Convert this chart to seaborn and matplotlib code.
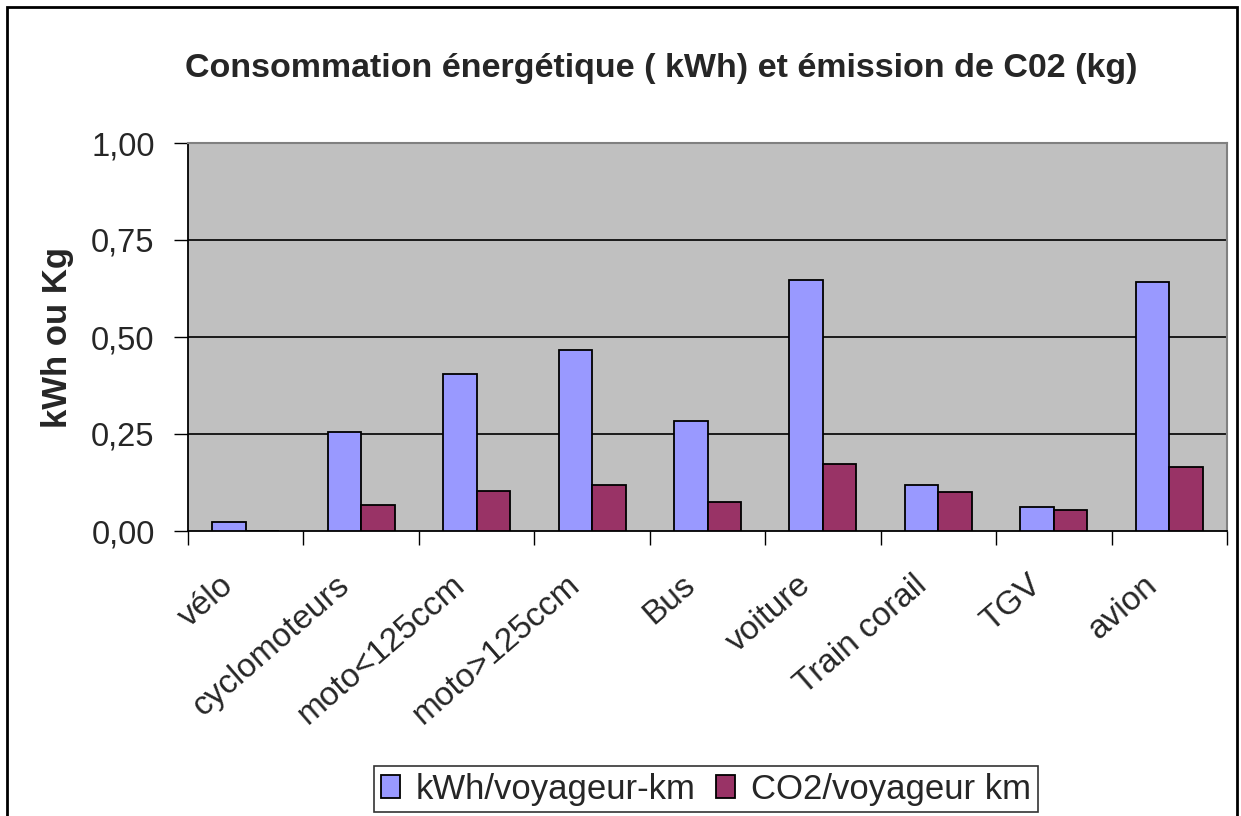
import matplotlib
matplotlib.use("Agg")
import matplotlib.pyplot as plt
import matplotlib.ticker as mticker
import matplotlib.transforms as mtransforms
from matplotlib.patches import Rectangle, Patch
import seaborn as sns
import pandas as pd

categories = ["vélo", "cyclomoteurs", "moto<125ccm", "moto>125ccm", "Bus",
              "voiture", "Train corail", "TGV", "avion"]
kwh_values = [0.022, 0.254, 0.404, 0.466, 0.284, 0.648, 0.119, 0.062, 0.641]
co2_values = [0.0, 0.066, 0.103, 0.119, 0.074, 0.172, 0.101, 0.055, 0.164]
series_names = ["kWh/voyageur-km", "CO2/voyageur km"]
y_ticks = [0.0, 0.25, 0.5, 0.75, 1.0]

title = "Consommation énergétique ( kWh) et émission de C02 (kg)"
ylabel = "kWh ou Kg"

colors = ["#9999FF", "#993366"]

df = pd.DataFrame({
    "cat": categories * 2,
    "val": kwh_values + co2_values,
    "serie": [series_names[0]] * len(categories) + [series_names[1]] * len(categories),
})

sns.set_style("white")
plt.rcParams["font.family"] = ["Liberation Sans", "DejaVu Sans"]

fig = plt.figure(figsize=(12.41, 8.16), dpi=100)
ax = fig.add_axes([188 / 1241, 1 - 531 / 816, (1227 - 188) / 1241, (531 - 143) / 816])

sns.barplot(data=df, x="cat", y="val", hue="serie", order=categories,
            hue_order=series_names, palette=colors, saturation=1, width=0.58, gap=0,
            edgecolor="black", linewidth=1.3, ax=ax, legend=False, zorder=3)

ax.set_facecolor("#C0C0C0")
ax.set_xlim(-0.5, len(categories) - 0.5)
ax.set_ylim(0, 1.0)

# y axis
ax.set_yticks(y_ticks)
ax.yaxis.set_major_formatter(mticker.FuncFormatter(lambda v, p: f"{v:.2f}".replace(".", ",")))
ax.tick_params(axis="y", which="major", direction="out", length=10, width=1,
               color="black", labelsize=23.5, pad=14, left=True)
for yv in y_ticks[1:-1]:
    ax.axhline(yv, color="#1a1a1a", linewidth=1.4, zorder=1)

# x axis: ticks at boundaries, labels at centers
ax.set_xticks([i - 0.5 for i in range(len(categories) + 1)])
ax.set_xticklabels([])
ax.set_xticks(range(len(categories)), minor=True)
ax.set_xticklabels(categories, minor=True, rotation=41, ha="right",
                   rotation_mode="anchor", fontsize=24, va="center")
ax.tick_params(axis="x", which="major", direction="out", length=10, width=1,
               color="black", bottom=True)
ax.tick_params(axis="x", which="minor", length=0, pad=36)
offset = mtransforms.ScaledTranslation(-16 / 100, 0, fig.dpi_scale_trans)
for lab in ax.get_xticklabels(minor=True):
    lab.set_transform(lab.get_transform() + offset)
ax.set_xlabel("")

ax.set_ylabel(ylabel, fontsize=25, fontweight="bold", labelpad=12)

for side in ["left", "bottom"]:
    ax.spines[side].set_color("black")
    ax.spines[side].set_linewidth(1.3)
for side in ["top", "right"]:
    ax.spines[side].set_visible(True)
    ax.spines[side].set_color("#808080")
    ax.spines[side].set_linewidth(1.5)

fig.text(661 / 1241, 1 - 68 / 816, title, ha="center", va="center",
         fontsize=24.5, fontweight="bold")

handles = [Patch(facecolor=c, edgecolor="black", linewidth=1.3) for c in colors]
leg = fig.legend(handles, series_names, loc="center",
                 bbox_to_anchor=(706 / 1241, 1 - 789 / 816), ncol=2,
                 fontsize=25, frameon=True, fancybox=False, edgecolor="black",
                 handlelength=0.55, handleheight=0.65, handletextpad=0.45,
                 columnspacing=0.6, borderpad=0.2, borderaxespad=0)
leg.get_frame().set_linewidth(1.2)

# figure border
fig.patches.append(Rectangle((7 / 1241, -0.05), (1237 - 7) / 1241, 1.05 - 7 / 816,
                             transform=fig.transFigure, fill=False,
                             edgecolor="black", linewidth=2))

fig.savefig("out.png", dpi=100)
